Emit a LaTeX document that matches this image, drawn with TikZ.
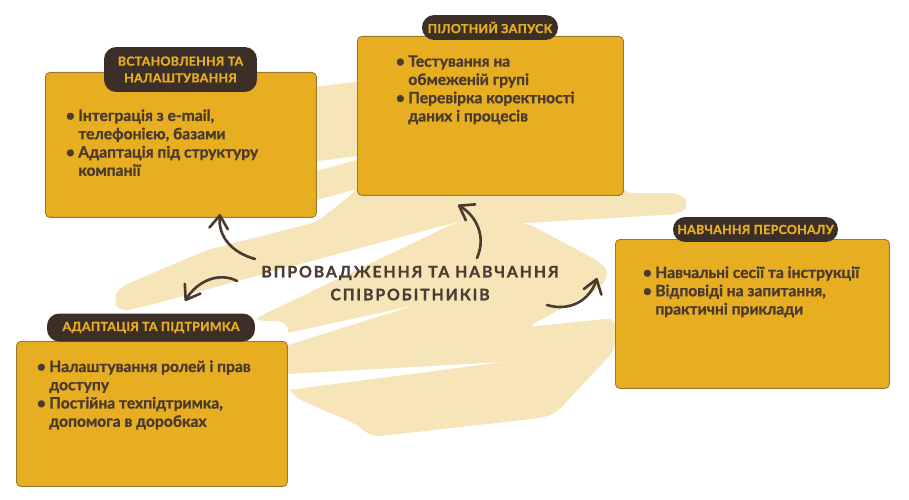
\documentclass[tikz,border=0pt]{standalone}
\usepackage{fontspec}
\setmainfont{Lato}[FakeBold=1.2]
\newfontfamily\ttlfont{Lato}[LetterSpace=12,FakeBold=1.2]
\newfontfamily\pillfont{Lato}[LetterSpace=2,FakeBold=1.2]
\usetikzlibrary{arrows.meta}
\definecolor{gold}{HTML}{E8AE22}
\definecolor{goldedge}{HTML}{9C7A2C}
\definecolor{ink}{HTML}{4A3B2E}
\definecolor{pillbg}{HTML}{3B2F28}
\definecolor{beige}{HTML}{F7E5BA}
\definecolor{titleink}{HTML}{4B3D33}
\newcommand{\bul}{\makebox[7.1pt][l]{•}}
\newcommand{\ind}{\hspace*{7.1pt}}
\begin{document}
\begin{tikzpicture}[x=0.02cm,y=-0.02cm,
  box/.style={draw=goldedge, line width=0.5pt, fill=gold, rounded corners=2.5pt, anchor=north west, inner sep=0pt},
  pill/.style={fill=pillbg, text=gold, rounded corners=7pt, inner sep=0pt, align=center, font=\pillfont\bfseries\fontsize{7.1}{9.5}\selectfont},
  body/.style={anchor=north west, inner sep=0pt, align=left, text=ink, font=\bfseries\fontsize{8.9}{10.4}\selectfont},
  ttl/.style={anchor=north, inner sep=0pt, align=center, text=titleink, font=\ttlfont\bfseries\fontsize{9}{13}\selectfont},
  arr/.style={draw=ink, line width=1.5pt, line cap=round, line join=round, -{Straight Barb[length=7.5pt,width=10.5pt,round]}},
  scrib/.style={fill=beige, rounded corners=5pt}]
\useasboundingbox (0,0) rectangle (909,500);
\fill[white] (0,0) rectangle (909,500);
% background scribble
\draw[beige, line width=1.48cm] (300,126) -- (380,116);
\draw[beige, line width=0.56cm] (300,190) -- (380,168);
\fill[scrib] (113,300) -- (120,287) -- (207,250) -- (317,222) -- (357,190) -- (360,170) -- (620,170) -- (623,193) -- (680,193) -- (690,204) -- (680,214) -- (527,223) -- (457,222) -- (300,264) -- (150,305) -- (120,312) -- cycle;
\fill[scrib] (457,222) -- (527,223) -- (600,262) -- (610,273) -- (600,288) -- (527,327) -- (615,318) -- (615,350) -- (555,414) -- (540,418) -- (372,437) -- (356,424) -- (300,400) -- (288,390) -- (288,322) -- (252,320) -- cycle;
\fill[white] (503,362) -- (288,374) -- (288,390) -- cycle;
\fill[white] (412,306) -- (288,333) -- (288,345) -- cycle;
% boxes
\node[box, minimum width=5.42cm, minimum height=2.90cm] (b1) at (45,72) {};
\node[box, minimum width=5.32cm, minimum height=3.18cm] (b2) at (357,36) {};
\node[box, minimum width=5.48cm, minimum height=2.98cm] (b3) at (615,239) {};
\node[box, minimum width=5.42cm, minimum height=2.90cm] (b4) at (16,341) {};
% pills
\node[pill, minimum width=3.06cm, minimum height=0.90cm] (p1) at (180.5,69.5) {ВСТАНОВЛЕННЯ ТА\\НАЛАШТУВАННЯ};
\node[pill, minimum width=2.72cm, minimum height=0.50cm] (p2) at (490,27.5) {ПІЛОТНИЙ ЗАПУСК};
\node[pill, minimum width=3.30cm, minimum height=0.50cm] (p3) at (755.5,229.5) {НАВЧАННЯ ПЕРСОНАЛУ};
\node[pill, minimum width=4.16cm, minimum height=0.56cm] (p4) at (151,327.5) {АДАПТАЦІЯ ТА ПІДТРИМКА};
% body texts
\node[body] (t1) at (65.5,109) {\bul Інтеграція з e-mail,\\ \ind телефонією, базами\\ \bul Адаптація під структуру\\ \ind компанії};
\node[body] (t2) at (395.5,55) {\bul Тестування на\\ \ind обмеженій групі\\ \bul Перевірка коректності\\ \ind даних і процесів};
\node[body] (t3) at (642.5,266) {\bul Навчальні сесії та інструкції\\ \bul Відповіді на запитання,\\ \ind практичні приклади};
\node[body] (t4) at (36.5,360) {\bul Налаштування ролей і прав\\ \ind доступу\\ \bul Постійна техпідтримка,\\ \ind допомога в доробках};
% title
\node[ttl] (title) at (410,265.5) {ВПРОВАДЖЕННЯ ТА НАВЧАННЯ\\СПІВРОБІТНИКІВ};
% arrows
\coordinate (a1s) at (255,259); \coordinate (a1e) at (220,214);
\coordinate (a2s) at (477,258); \coordinate (a2e) at (458,205);
\coordinate (a3s) at (237,281); \coordinate (a3e) at (185,301);
\coordinate (a4s) at (547,305); \coordinate (a4e) at (597,278);
\draw[arr] (a1s) .. controls (230,252) and (218,235) .. (a1e);
\draw[arr] (a2s) .. controls (487,235) and (475,215) .. (a2e);
\draw[arr] (a3s) .. controls (220,272) and (198,280) .. (a3e);
\draw[arr] (a4s) .. controls (570,312) and (590,300) .. (a4e);
\end{tikzpicture}
\end{document}
